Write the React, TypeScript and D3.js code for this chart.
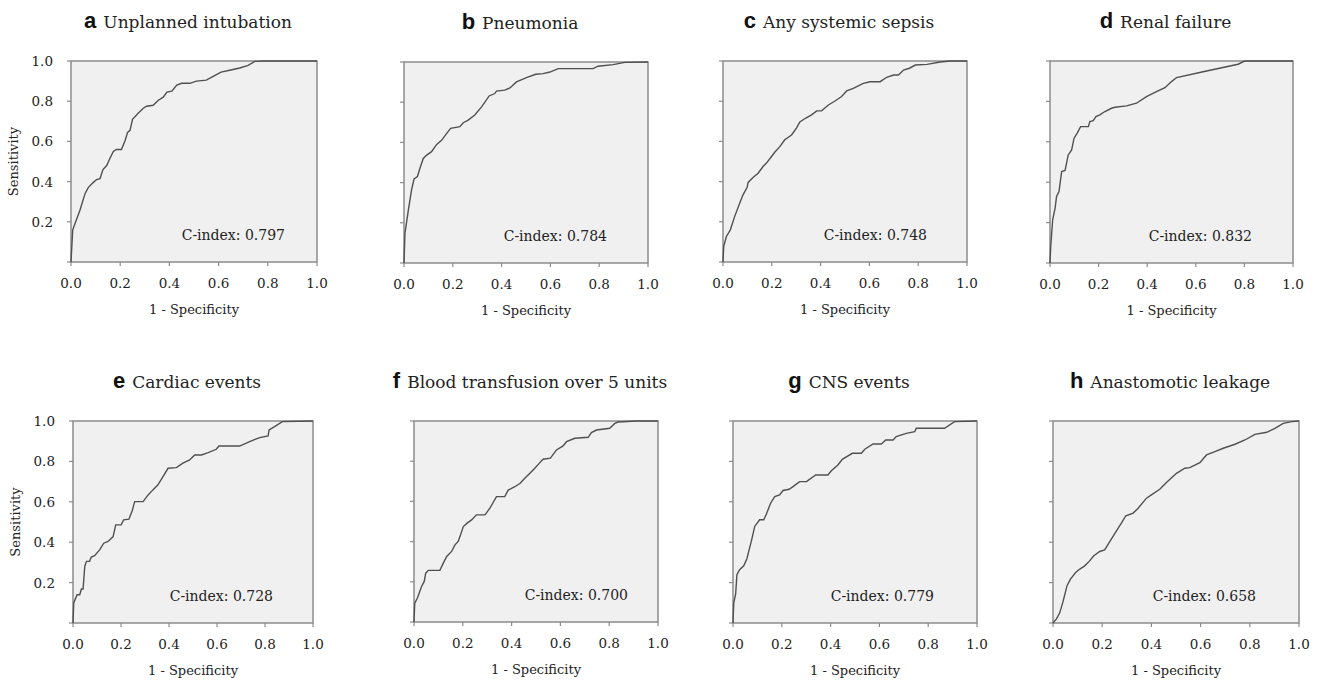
import React from "react";
import * as d3 from "d3";

// ---- Data (1 - specificity, sensitivity) ----
const unplannedIntubation: [number, number][] = [
  [0, 0], [0.007, 0.16], [0.016, 0.19], [0.037, 0.26], [0.057, 0.34], [0.07, 0.37], [0.09, 0.395],
  [0.104, 0.41], [0.118, 0.415], [0.13, 0.46], [0.145, 0.48], [0.158, 0.515], [0.172, 0.55],
  [0.185, 0.56], [0.205, 0.56], [0.22, 0.605], [0.23, 0.645], [0.24, 0.655], [0.25, 0.71],
  [0.273, 0.74], [0.294, 0.765], [0.307, 0.775], [0.334, 0.78], [0.355, 0.805], [0.375, 0.82],
  [0.39, 0.845], [0.41, 0.85], [0.43, 0.88], [0.45, 0.889], [0.483, 0.889], [0.51, 0.9],
  [0.55, 0.905], [0.578, 0.924], [0.61, 0.945], [0.645, 0.954], [0.686, 0.965], [0.72, 0.978],
  [0.747, 0.998], [0.79, 1], [0.873, 1], [1, 1],
];
const pneumonia: [number, number][] = [
  [0, 0], [0.004, 0.149], [0.018, 0.264], [0.031, 0.364], [0.041, 0.418], [0.055, 0.43],
  [0.065, 0.47], [0.079, 0.52], [0.093, 0.537], [0.113, 0.554], [0.134, 0.59], [0.154, 0.61],
  [0.175, 0.645], [0.191, 0.67], [0.229, 0.678], [0.243, 0.698], [0.263, 0.711], [0.29, 0.736],
  [0.318, 0.777], [0.349, 0.831], [0.372, 0.843], [0.379, 0.855], [0.413, 0.86], [0.434, 0.871],
  [0.461, 0.901], [0.502, 0.922], [0.54, 0.939], [0.57, 0.942], [0.598, 0.95], [0.632, 0.967],
  [0.775, 0.967], [0.795, 0.979], [0.857, 0.987], [0.905, 0.998], [1, 1],
];
const systemicSepsis: [number, number][] = [
  [0, 0], [0.003, 0.078], [0.014, 0.127], [0.03, 0.16], [0.048, 0.227], [0.066, 0.285],
  [0.082, 0.334], [0.099, 0.372], [0.103, 0.396], [0.123, 0.42], [0.144, 0.442], [0.164, 0.475],
  [0.178, 0.492], [0.199, 0.525], [0.212, 0.546], [0.233, 0.574], [0.253, 0.608], [0.281, 0.632],
  [0.301, 0.666], [0.315, 0.697], [0.338, 0.715], [0.363, 0.732], [0.384, 0.752], [0.404, 0.752],
  [0.432, 0.781], [0.459, 0.801], [0.486, 0.823], [0.507, 0.851], [0.534, 0.864], [0.575, 0.889],
  [0.603, 0.897], [0.644, 0.897], [0.671, 0.919], [0.699, 0.93], [0.719, 0.93], [0.74, 0.955],
  [0.764, 0.964], [0.788, 0.98], [0.836, 0.983], [0.89, 0.995], [0.932, 1], [1, 1],
];
const renalFailure: [number, number][] = [
  [0, 0], [0.003, 0.082], [0.011, 0.214], [0.021, 0.272], [0.027, 0.33], [0.037, 0.354],
  [0.048, 0.453], [0.062, 0.458], [0.075, 0.535], [0.089, 0.56], [0.099, 0.618], [0.112, 0.643],
  [0.126, 0.675], [0.158, 0.675], [0.164, 0.7], [0.178, 0.705], [0.189, 0.725], [0.205, 0.733],
  [0.226, 0.75], [0.253, 0.766], [0.267, 0.771], [0.315, 0.778], [0.356, 0.791], [0.397, 0.824],
  [0.438, 0.848], [0.473, 0.868], [0.5, 0.898], [0.521, 0.918], [0.63, 0.947], [0.774, 0.984],
  [0.801, 1], [1, 1],
];
const cardiacEvents: [number, number][] = [
  [0, 0], [0.003, 0.099], [0.017, 0.14], [0.028, 0.14], [0.035, 0.168], [0.042, 0.168],
  [0.049, 0.28], [0.056, 0.305], [0.069, 0.305], [0.076, 0.326], [0.09, 0.333], [0.111, 0.362],
  [0.128, 0.395], [0.146, 0.404], [0.167, 0.428], [0.178, 0.486], [0.201, 0.486], [0.211, 0.511],
  [0.233, 0.514], [0.247, 0.557], [0.257, 0.601], [0.292, 0.601], [0.313, 0.634], [0.333, 0.659],
  [0.354, 0.684], [0.375, 0.725], [0.396, 0.766], [0.431, 0.769], [0.458, 0.791], [0.486, 0.807],
  [0.507, 0.832], [0.535, 0.832], [0.563, 0.843], [0.597, 0.86], [0.608, 0.876], [0.694, 0.876],
  [0.736, 0.898], [0.778, 0.918], [0.813, 0.926], [0.817, 0.956], [0.84, 0.972], [0.872, 0.997],
  [1, 1],
];
const bloodTransfusion: [number, number][] = [
  [0, 0], [0.003, 0.094], [0.014, 0.119], [0.031, 0.177], [0.042, 0.202], [0.048, 0.243],
  [0.059, 0.257], [0.106, 0.257], [0.12, 0.293], [0.134, 0.326], [0.154, 0.351], [0.168, 0.384],
  [0.181, 0.401], [0.191, 0.434], [0.202, 0.475], [0.218, 0.492], [0.236, 0.508], [0.256, 0.533],
  [0.291, 0.533], [0.311, 0.566], [0.338, 0.624], [0.372, 0.624], [0.386, 0.656], [0.413, 0.673],
  [0.434, 0.689], [0.454, 0.715], [0.475, 0.74], [0.495, 0.765], [0.516, 0.793], [0.529, 0.81],
  [0.559, 0.815], [0.584, 0.856], [0.611, 0.876], [0.625, 0.897], [0.659, 0.914], [0.714, 0.919],
  [0.727, 0.942], [0.748, 0.955], [0.802, 0.964], [0.823, 0.988], [0.836, 0.995], [0.911, 1],
  [1, 1],
];
const cnsEvents: [number, number][] = [
  [0, 0], [0.003, 0.099], [0.011, 0.145], [0.016, 0.239], [0.027, 0.264], [0.044, 0.283],
  [0.057, 0.318], [0.066, 0.362], [0.075, 0.404], [0.089, 0.478], [0.109, 0.511], [0.126, 0.511],
  [0.137, 0.54], [0.154, 0.593], [0.171, 0.626], [0.191, 0.634], [0.205, 0.656], [0.23, 0.662],
  [0.246, 0.675], [0.273, 0.7], [0.301, 0.7], [0.339, 0.733], [0.389, 0.733], [0.403, 0.754],
  [0.43, 0.782], [0.448, 0.81], [0.489, 0.84], [0.526, 0.84], [0.54, 0.86], [0.574, 0.886],
  [0.608, 0.886], [0.626, 0.906], [0.656, 0.906], [0.669, 0.923], [0.71, 0.939], [0.745, 0.947],
  [0.751, 0.964], [0.867, 0.964], [0.908, 0.997], [1, 1],
];
const anastomoticLeakage: [number, number][] = [
  [0, 0], [0.014, 0.02], [0.027, 0.049], [0.041, 0.107], [0.057, 0.185], [0.071, 0.217],
  [0.092, 0.25], [0.109, 0.267], [0.129, 0.283], [0.147, 0.305], [0.166, 0.333], [0.19, 0.354],
  [0.21, 0.362], [0.237, 0.415], [0.265, 0.47], [0.278, 0.494], [0.296, 0.531], [0.326, 0.544],
  [0.346, 0.568], [0.38, 0.618], [0.4, 0.634], [0.434, 0.662], [0.461, 0.695], [0.502, 0.741],
  [0.536, 0.766], [0.556, 0.769], [0.597, 0.794], [0.624, 0.832], [0.658, 0.848], [0.692, 0.865],
  [0.74, 0.885], [0.78, 0.906], [0.821, 0.934], [0.869, 0.944], [0.902, 0.964], [0.936, 0.988],
  [0.97, 0.997], [1, 1],
];

const panelLetters = ["a", "b", "c", "d", "e", "f", "g", "h"];
const panelTitles = [
  "Unplanned intubation", "Pneumonia", "Any systemic sepsis", "Renal failure",
  "Cardiac events", "Blood transfusion over 5 units", "CNS events", "Anastomotic leakage",
];
const cIndexValues = ["0.797", "0.784", "0.748", "0.832", "0.728", "0.700", "0.779", "0.658"];
const curves = [
  unplannedIntubation, pneumonia, systemicSepsis, renalFailure,
  cardiacEvents, bloodTransfusion, cnsEvents, anastomoticLeakage,
];
const xTicks = [0, 0.2, 0.4, 0.6, 0.8, 1.0];
const yTicks = [0.2, 0.4, 0.6, 0.8, 1.0];
const yLabelPanels = ["a", "e"];

// ---- Layout (plot rectangles, px) ----
const frames = [
  { l: 71, r: 317, t: 61, b: 262, cdx: 32 },
  { l: 404, r: 648, t: 62, b: 263, cdx: 41 },
  { l: 723, r: 967, t: 61, b: 262, cdx: 40 },
  { l: 1050, r: 1293, t: 61, b: 263, cdx: 41 },
  { l: 73, r: 313, t: 421, b: 623, cdx: 40 },
  { l: 414, r: 658, t: 421, b: 622, cdx: 30 },
  { l: 733, r: 977, t: 421, b: 623, cdx: 43 },
  { l: 1053, r: 1299, t: 421, b: 623, cdx: 43 },
];

const SERIF = "'DejaVu Serif', serif";
const SANS = "'Liberation Sans', Arial, sans-serif";
const AXIS = "#8c8c8c";
const INK = "#222";

function Panel({ i }: { i: number }) {
  const f = frames[i];
  const x = d3.scaleLinear().domain([0, 1]).range([f.l, f.r]);
  const y = d3.scaleLinear().domain([0, 1]).range([f.b, f.t]);
  const line = d3.line<[number, number]>().x((d) => x(d[0])).y((d) => y(d[1]));
  const letter = panelLetters[i];
  const showY = yLabelPanels.includes(letter);
  const titleY = f.t - 33;
  const cx = (f.l + f.r) / 2 - 6;
  return (
    <g>
      <text x={cx} y={titleY} textAnchor="middle" fill="#111">
        <tspan fontFamily={SANS} fontWeight="bold" fontSize={22}>{letter}</tspan>
        <tspan fontFamily={SERIF} fontSize={17} dx={7} fill={INK}>{panelTitles[i]}</tspan>
      </text>
      <rect x={f.l} y={f.t} width={f.r - f.l} height={f.b - f.t} fill="#f0f0f0" stroke={AXIS} strokeWidth={1.5} />
      {xTicks.map((v) => (
        <g key={"x" + v}>
          <line x1={x(v)} x2={x(v)} y1={f.b} y2={f.b + 4} stroke={AXIS} strokeWidth={1.2} />
          <text x={x(v)} y={f.b + 26} textAnchor="middle" fontFamily={SERIF} fontSize={13.5} fill={INK}>
            {v.toFixed(1)}
          </text>
        </g>
      ))}
      {[0, ...yTicks].map((v) => (
        <line key={"y" + v} x1={f.l - 4} x2={f.l} y1={y(v)} y2={y(v)} stroke={AXIS} strokeWidth={1.2} />
      ))}
      {showY &&
        yTicks.map((v) => (
          <text key={"yl" + v} x={f.l - 18} y={y(v) + 5} textAnchor="end" fontFamily={SERIF} fontSize={13.5} fill={INK}>
            {v.toFixed(1)}
          </text>
        ))}
      {showY && (
        <text
          transform={`translate(${f.l - 53},${(f.t + f.b) / 2}) rotate(-90)`}
          textAnchor="middle"
          fontFamily={SERIF}
          fontSize={13}
          fill={INK}
        >
          Sensitivity
        </text>
      )}
      <text x={(f.l + f.r) / 2} y={f.b + 52} textAnchor="middle" fontFamily={SERIF} fontSize={13} fill={INK}>
        1 - Specificity
      </text>
      <path d={line(curves[i]) || ""} fill="none" stroke="#505050" strokeWidth={1.4} />
      <text x={f.r - f.cdx} y={f.b - 22} textAnchor="end" fontFamily={SERIF} fontSize={14} fill={INK}>
        {"C-index:  " + cIndexValues[i]}
      </text>
    </g>
  );
}

export default function App() {
  return (
    <svg width={1321} height={684} style={{ position: "absolute", left: 0, top: 0, background: "#fff" }}>
      {curves.map((_, i) => (
        <Panel key={i} i={i} />
      ))}
    </svg>
  );
}
